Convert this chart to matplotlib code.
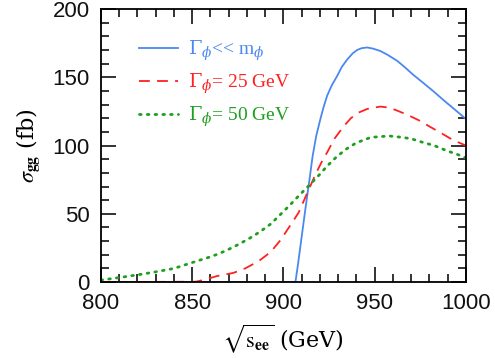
import matplotlib
matplotlib.use("Agg")
import matplotlib.pyplot as plt
from matplotlib.font_manager import FontProperties
from matplotlib.ticker import MultipleLocator

# cross sections
sqrt_s_narrow = [800, 906.6, 908, 910, 912, 914, 916, 918, 920.3, 922, 924, 926.5,
                 929.5, 932, 935, 938, 940.5, 943, 946, 949, 953, 957, 962.4, 966,
                 971, 977, 982, 988, 994, 1000]
sigma_narrow = [0, 0, 13, 33, 53, 72, 92, 107, 119.5, 128, 136.5, 144,
                151, 157.5, 163, 167.5, 170, 171.3, 171.8, 171, 169.3, 166.5, 162, 158,
                152, 145.5, 140, 133, 126.3, 119.5]

sqrt_s_25 = [800, 852, 856, 860, 863.5, 868, 872.7, 879, 886.4, 893, 898.4, 903.8,
             908.4, 912, 915, 918, 921, 924, 928, 933, 937, 941, 946, 953, 958,
             962.5, 968, 975, 980, 986, 993, 1000]
sigma_25 = [0, 0.3, 1.5, 3, 4.4, 5.5, 6.8, 10, 15.3, 22, 30.7, 41.6,
            51, 62, 71, 80, 88, 95, 105, 114, 120, 124, 126.8, 128.5, 127.8,
            125.5, 122.5, 118, 114, 109.5, 104, 100]

sqrt_s_50 = [800, 810, 820, 830, 840, 850, 854, 860, 865, 870, 876, 882, 887,
             893, 898, 904, 909, 915, 920, 924, 928.6, 934, 940, 948, 958, 965,
             970, 976, 982.6, 990, 997, 1000]
sigma_50 = [1.5, 3.3, 5.3, 7.5, 10, 14.3, 16, 18.5, 21, 24, 28, 32.5, 36.7,
            42.5, 49, 57, 64, 72, 79, 85, 91, 97, 102, 106, 107, 106,
            105, 102.5, 100, 96, 92.7, 91]

labels = [r"$\Gamma_{\phi}$<< m$_{\phi}$",
          r"$\Gamma_{\phi}$= 25 GeV",
          r"$\Gamma_{\phi}$= 50 GeV"]

plt.rcParams["mathtext.fontset"] = "stix"
plt.rcParams["font.family"] = "Liberation Sans"

fig = plt.figure(figsize=(4.95, 3.58), dpi=100)
ax = fig.add_axes([0.204, 0.212, 0.737, 0.763])

ax.plot(sqrt_s_narrow, sigma_narrow, color="#4a88f0", lw=1.3, label=labels[0])
ax.plot(sqrt_s_25, sigma_25, color="#ff2020", lw=1.3, dashes=(6, 4), label=labels[1])
ax.plot(sqrt_s_50, sigma_50, color="#1f9e1f", lw=2.0, dashes=(0.6, 2.2),
        dash_capstyle="round", label=labels[2])

ax.set_xlim(800, 1000)
ax.set_ylim(0, 200)
ax.xaxis.set_major_locator(MultipleLocator(50))
ax.xaxis.set_minor_locator(MultipleLocator(10))
ax.yaxis.set_major_locator(MultipleLocator(50))
ax.yaxis.set_minor_locator(MultipleLocator(10))
ax.tick_params(which="both", direction="in", top=True, right=True, width=1.2,
               colors="#111111")
ax.tick_params(which="major", length=11, labelsize=16, pad=8)
ax.tick_params(which="minor", length=5.5)
for sp in ax.spines.values():
    sp.set_linewidth(1.3)

ax.set_xlabel(r"$\sqrt{\mathrm{s}_{\mathbf{ee}}}$ (GeV)", fontsize=16,
              family="DejaVu Serif", labelpad=6)
ax.set_ylabel(r"$\sigma_{\mathbf{gg}}$ (fb)", fontsize=16,
              family="DejaVu Serif", labelpad=8)

leg_font = FontProperties(family="Liberation Serif", size=14,
                          math_fontfamily="dejavuserif")
leg = ax.legend(loc="upper left", bbox_to_anchor=(0.055, 0.955), frameon=False,
                handlelength=2.05, handletextpad=0.5, labelspacing=0.45,
                prop=leg_font, labelcolor="linecolor")

fig.savefig("out.png", dpi=100)
